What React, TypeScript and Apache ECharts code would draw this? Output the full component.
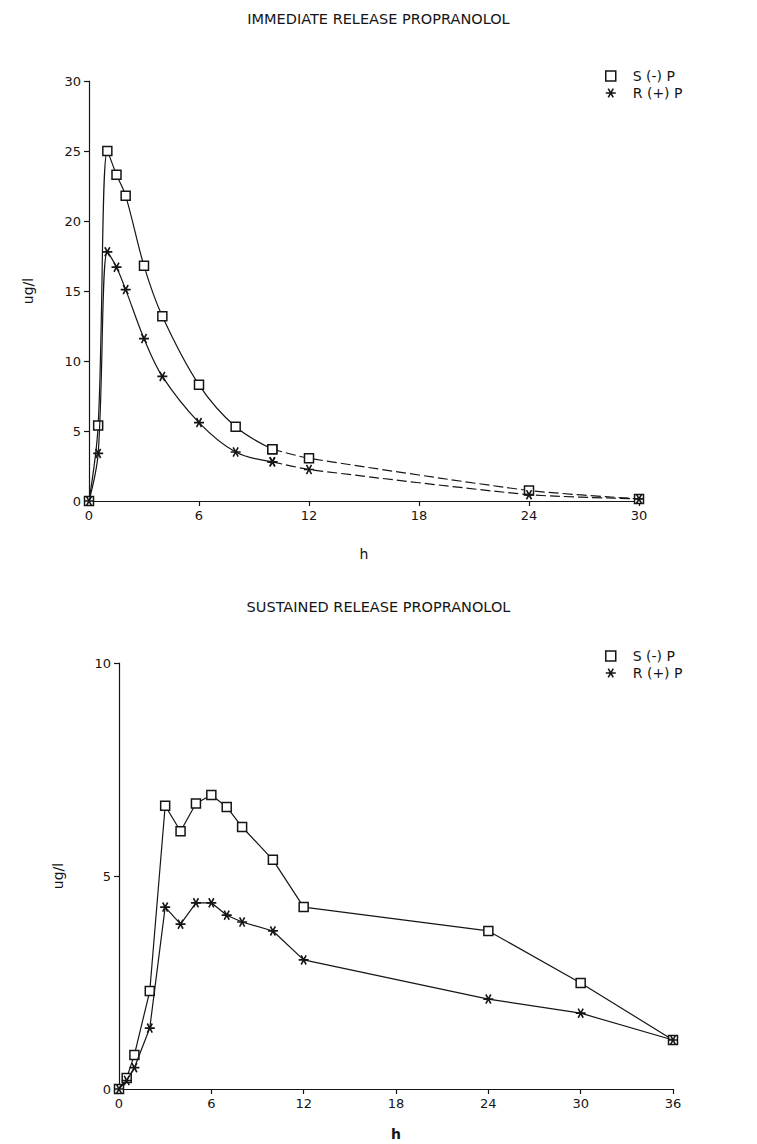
import React, { useEffect, useRef } from "react";
import * as echarts from "echarts";

// Immediate release (top panel)
const irTime = [0, 0.5, 1, 1.5, 2, 3, 4, 6, 8, 10, 12, 24, 30];
const irS = [0, 5.4, 25.0, 23.3, 21.8, 16.8, 13.2, 8.3, 5.3, 3.7, 3.05, 0.75, 0.15];
const irR = [0, 3.4, 17.8, 16.7, 15.1, 11.6, 8.9, 5.6, 3.5, 2.8, 2.25, 0.45, 0.15];
const irSolidEnd = 9; // index of 10 h; dashed afterwards

// Sustained release (bottom panel)
const srTime = [0, 0.5, 1, 2, 3, 4, 5, 6, 7, 8, 10, 12, 24, 30, 36];
const srS = [0, 0.26, 0.8, 2.3, 6.65, 6.05, 6.7, 6.9, 6.62, 6.15, 5.38, 4.27, 3.71, 2.49, 1.15];
const srR = [0, 0.2, 0.5, 1.43, 4.27, 3.87, 4.37, 4.37, 4.08, 3.92, 3.71, 3.03, 2.11, 1.78, 1.15];

const irXTicks = { min: 0, max: 30, interval: 6 };
const irYTicks = { min: 0, max: 30, interval: 5 };
const srXTicks = { min: 0, max: 36, interval: 6 };
const srYTicks = { min: 0, max: 10, interval: 5 };

const titles = ["IMMEDIATE RELEASE PROPRANOLOL", "SUSTAINED RELEASE PROPRANOLOL"];
const seriesNames = ["S(-)P", "R(+)P"];
const legendLabels = ["S (-) P", "R (+) P"];
const yName = "ug/l";
const xName = "h";

const STAR =
  "path://M0,4.2L10,4.2L10,5.8L0,5.8Z M1.81,1.07L3.19,0.27L8.19,8.93L6.81,9.73Z M6.81,0.27L8.19,1.07L3.19,9.73L1.81,8.93Z";

const INK = "#151515";
const FONT = "DejaVu Sans";

const pairs = (xs: number[], ys: number[]) => xs.map((x, i) => [x, ys[i]]);

export default function App() {
  const ref = useRef<HTMLDivElement>(null);
  useEffect(() => {
    document.body.style.margin = "0";
    const chart = echarts.init(ref.current!, undefined, { renderer: "svg" });

    const axisCommon = {
      axisLine: { show: true, lineStyle: { color: INK, width: 1.2 } },
      axisTick: { show: true, length: 5, lineStyle: { color: INK, width: 1.2 } },
      axisLabel: { color: INK, fontFamily: FONT, fontSize: 13, margin: 8 },
      splitLine: { show: false },
      nameTextStyle: { color: INK, fontFamily: FONT, fontSize: 14 },
    };

    const sqSymbol = {
      symbol: "rect",
      symbolSize: 9,
      itemStyle: { color: "#fff", borderColor: INK, borderWidth: 1.5 },
    };
    const starSymbol = {
      symbol: STAR,
      symbolSize: 10,
      itemStyle: { color: INK },
    };

    const irSPts = pairs(irTime, irS);
    const irRPts = pairs(irTime, irR);

    const legendBase = {
      orient: "vertical",
      left: 600,
      itemGap: 3,
      itemWidth: 10,
      itemHeight: 10,
      textStyle: { fontFamily: FONT, fontSize: 14, color: INK, padding: [0, 0, 0, 12] },
      formatter: (n: string) => legendLabels[seriesNames.indexOf(n)],
      data: [
        { name: seriesNames[0], icon: "rect", itemStyle: { color: "#fff", borderColor: INK, borderWidth: 1.5 } },
        { name: seriesNames[1], icon: STAR, itemStyle: { color: INK } },
      ],
    };
    const titleStyle = { fontFamily: FONT, fontSize: 14.5, fontWeight: "normal", color: INK };

    const option: any = {
      animation: false,
      backgroundColor: "#fff",
      title: [
        { text: titles[0], left: "center", top: 6, textStyle: titleStyle },
        { text: titles[1], left: "center", top: 594, textStyle: titleStyle },
      ],
      legend: [
        { ...legendBase, top: 64 },
        { ...legendBase, top: 644 },
      ],
      grid: [
        { left: 89, top: 81, width: 550, height: 420, containLabel: false },
        { left: 119, top: 663, width: 554, height: 426, containLabel: false },
      ],
      xAxis: [
        {
          ...axisCommon,
          gridIndex: 0,
          type: "value",
          ...irXTicks,
          name: xName,
          nameLocation: "middle",
          nameGap: 46,
        },
        {
          ...axisCommon,
          gridIndex: 1,
          type: "value",
          ...srXTicks,
          name: xName,
          nameLocation: "middle",
          nameGap: 38,
          nameTextStyle: { ...axisCommon.nameTextStyle, fontWeight: "bold" },
        },
      ],
      yAxis: [
        {
          ...axisCommon,
          gridIndex: 0,
          type: "value",
          ...irYTicks,
          name: yName,
          nameLocation: "middle",
          nameGap: 54,
        },
        {
          ...axisCommon,
          gridIndex: 1,
          type: "value",
          ...srYTicks,
          name: yName,
          nameLocation: "middle",
          nameGap: 54,
        },
      ],
      series: [
        {
          name: seriesNames[0],
          type: "line",
          xAxisIndex: 0,
          yAxisIndex: 0,
          data: irSPts.slice(0, irSolidEnd + 1),
          smooth: 0.35,
          lineStyle: { color: INK, width: 1.2 },
          ...sqSymbol,
          z: 3,
        },
        {
          name: seriesNames[0],
          type: "line",
          xAxisIndex: 0,
          yAxisIndex: 0,
          data: irSPts.slice(irSolidEnd),
          smooth: 0.2,
          lineStyle: { color: INK, width: 1.2, type: [10, 4] },
          ...sqSymbol,
          z: 3,
        },
        {
          name: seriesNames[1],
          type: "line",
          xAxisIndex: 0,
          yAxisIndex: 0,
          data: irRPts.slice(0, irSolidEnd + 1),
          smooth: 0.35,
          lineStyle: { color: INK, width: 1.2 },
          ...starSymbol,
          z: 4,
        },
        {
          name: seriesNames[1],
          type: "line",
          xAxisIndex: 0,
          yAxisIndex: 0,
          data: irRPts.slice(irSolidEnd),
          smooth: 0.2,
          lineStyle: { color: INK, width: 1.2, type: [10, 4] },
          ...starSymbol,
          z: 4,
        },
        {
          name: seriesNames[0],
          type: "line",
          xAxisIndex: 1,
          yAxisIndex: 1,
          data: pairs(srTime, srS),
          lineStyle: { color: INK, width: 1.2 },
          ...sqSymbol,
          z: 3,
        },
        {
          name: seriesNames[1],
          type: "line",
          xAxisIndex: 1,
          yAxisIndex: 1,
          data: pairs(srTime, srR),
          lineStyle: { color: INK, width: 1.2 },
          ...starSymbol,
          z: 4,
        },
      ],
    };

    chart.setOption(option);
    return () => chart.dispose();
  }, []);

  return <div ref={ref} style={{ width: 757, height: 1144 }} />;
}
